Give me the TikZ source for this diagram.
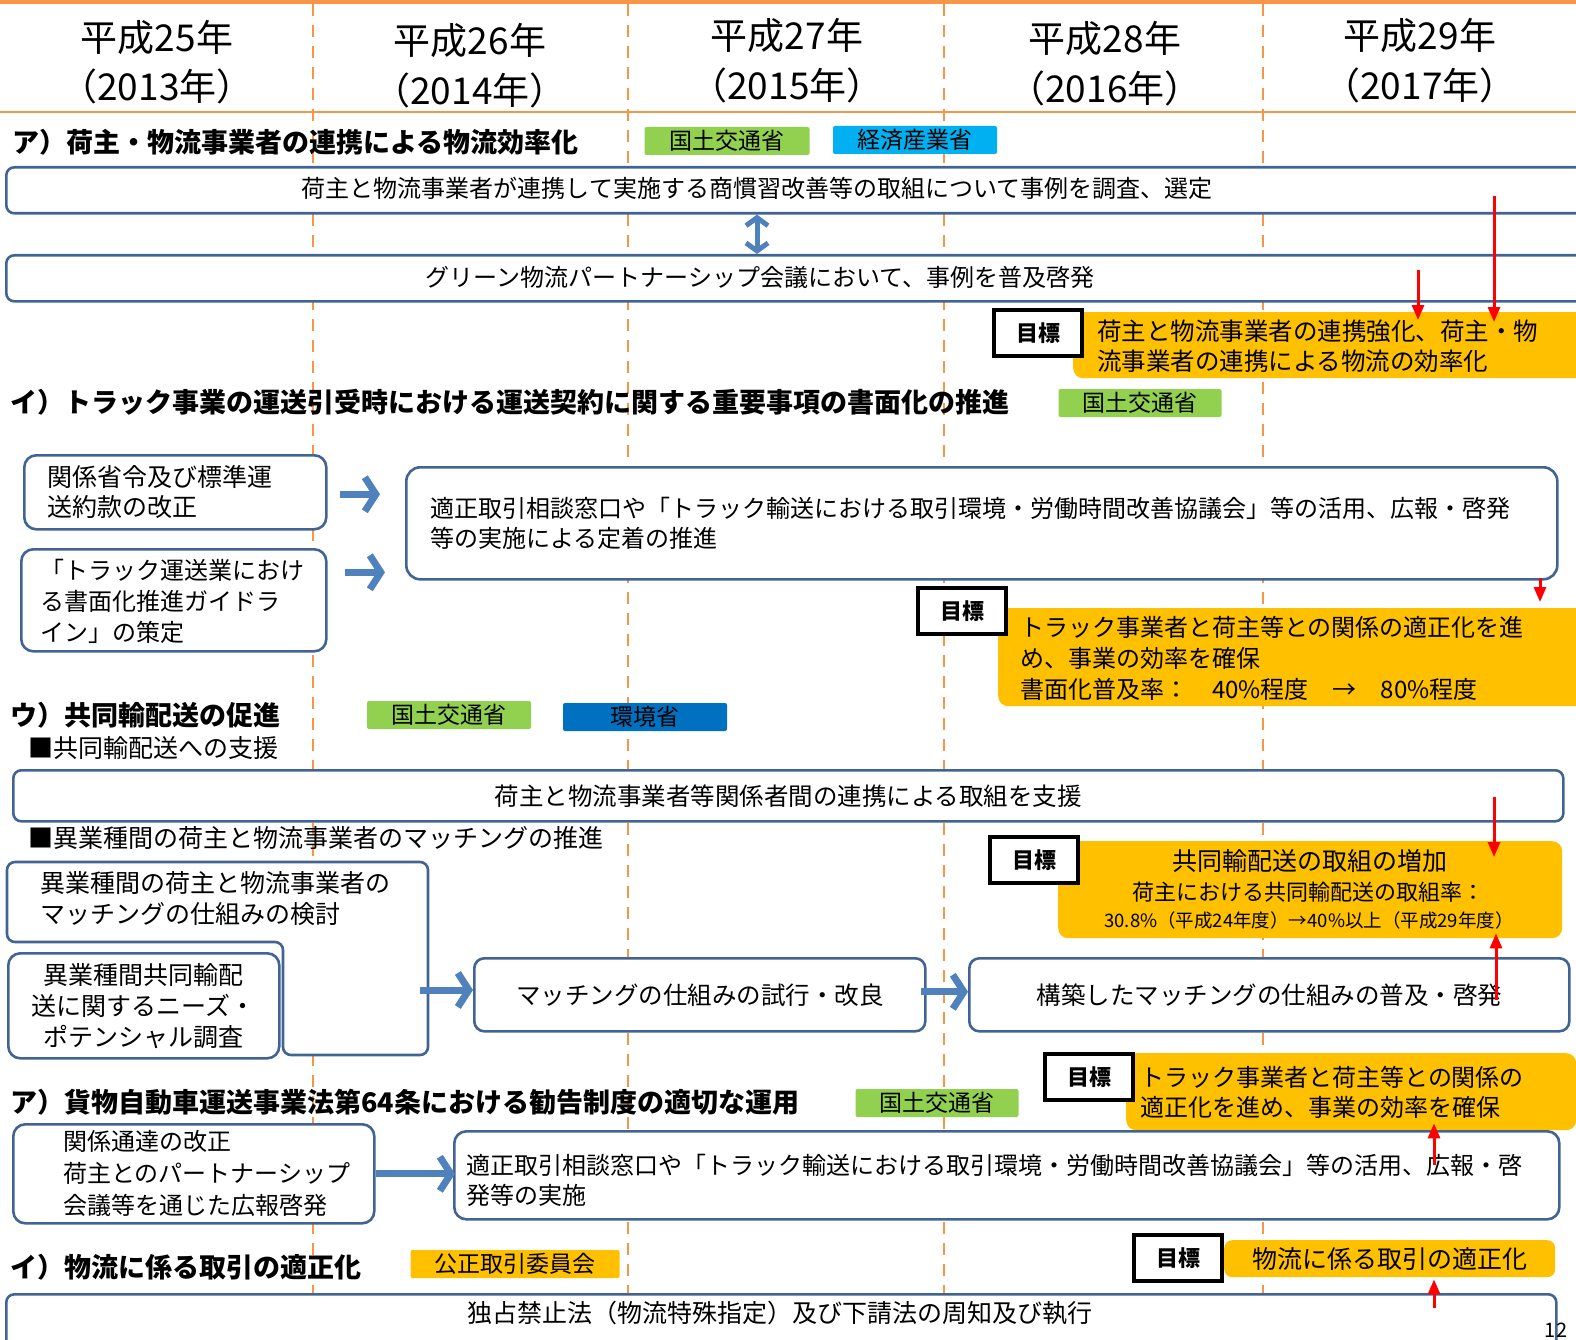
\documentclass[tikz,border=0pt]{standalone}
\usepackage{fontspec}
\setmainfont{Noto Sans CJK JP}
\usetikzlibrary{arrows.meta,positioning}

\definecolor{boxblue}{RGB}{65,100,148}
\definecolor{arrowblue}{RGB}{79,129,189}
\definecolor{taggreen}{RGB}{146,208,80}
\definecolor{tagcyan}{RGB}{0,176,240}
\definecolor{tagblue}{RGB}{0,112,192}
\definecolor{goalorange}{RGB}{255,192,0}
\definecolor{lineorange}{RGB}{247,150,70}

\newcommand\jsize[2]{\fontsize{#1}{#2}\selectfont}

\begin{document}
\begin{tikzpicture}[x=1pt,y=-1pt,
  frame/.style={draw=boxblue,line width=2.6pt,rounded corners=8pt,fill=white,inner sep=0pt},
  tag/.style={rounded corners=2pt,inner sep=0pt,minimum height=28pt,font=\jsize{23}{23}},
  goalbox/.style={draw=black,line width=4pt,fill=white,minimum width=88pt,minimum height=46pt,inner sep=0pt,font=\bfseries\jsize{22}{22}},
  target/.style={fill=goalorange,rounded corners=10pt,inner sep=0pt},
  title/.style={anchor=west,inner sep=0pt,font=\bfseries\jsize{27}{27}},
  year/.style={inner sep=0pt,font=\jsize{37}{37}},
  txt/.style={inner sep=0pt,font=\jsize{24}{30}},
  ltxt/.style={txt,anchor=west,align=left},
  fatarrow/.style={draw=arrowblue,line width=7pt,-{Straight Barb[length=11pt,width=34pt]}},
  dblarrow/.style={draw=arrowblue,line width=5pt,{Straight Barb[length=8pt,width=22pt]}-{Straight Barb[length=8pt,width=22pt]}},
  redarrow/.style={draw=red,line width=3pt,-{Triangle[length=15pt,width=12pt]}}
]
\useasboundingbox (0,0) rectangle (1576,1340);

% header
\draw[lineorange,line width=4pt] (0,2) -- (1576,2);
\draw[lineorange,line width=2.5pt] (0,112) -- (1576,112);
\foreach \x in {313,628,944,1263}
  \draw[lineorange,line width=2pt,dash pattern=on 12pt off 9pt] (\x,4) -- (\x,1340);

\node[year] (h25) at (157,37) {平成25年};
\node[year] (h25b) at (157,86) {（2013年）};
\node[year] (h26) at (470,40) {平成26年};
\node[year] (h26b) at (470,90) {（2014年）};
\node[year] (h27) at (787,35) {平成27年};
\node[year] (h27b) at (787,85) {（2015年）};
\node[year] (h28) at (1105,38) {平成28年};
\node[year] (h28b) at (1105,88) {（2016年）};
\node[year] (h29) at (1420,35) {平成29年};
\node[year] (h29b) at (1420,85) {（2017年）};

% ア) 連携
\node[title] (ttlA) at (12,142) {ア）荷主・物流事業者の連携による物流効率化};
\node[tag,fill=taggreen,minimum width=165pt] (mlitA) at (727,141) {国土交通省};
\node[tag,fill=tagcyan,minimum width=164pt] (meti) at (915,140) {経済産業省};

\node[frame,anchor=north west,minimum width=1600pt,minimum height=46pt] (boxA1) at (5,166) {};
\node[txt] (txtA1) at (757,188) {荷主と物流事業者が連携して実施する商慣習改善等の取組について事例を調査、選定};
\node[frame,anchor=north west,minimum width=1600pt,minimum height=46pt] (boxA2) at (5,254) {};
\node[txt] (txtA2) at (760,277) {グリーン物流パートナーシップ会議において、事例を普及啓発};
\draw[dblarrow] (boxA1.south -| txtA1) -- (boxA2.north -| txtA1);

\node[target,anchor=north west,minimum width=520pt,minimum height=66pt] (goalA) at (1073,312) {};
\node[ltxt,font=\jsize{24.5}{30}] (goalAt) at (1097,346) {荷主と物流事業者の連携強化、荷主・物\\流事業者の連携による物流の効率化};
\node[goalbox] (mokA) at (1038,333) {目標};
\coordinate (redA1) at (1494,196);
\coordinate (redA2) at (1418,270);
\draw[redarrow,shorten >=-10pt] (redA1) -- (redA1 |- goalA.north);
\draw[redarrow,shorten >=-8pt] (redA2) -- (redA2 |- goalA.north);

% イ) 書面化
\node[title] (ttlB) at (10,402) {イ）トラック事業の運送引受時における運送契約に関する重要事項の書面化の推進};
\node[tag,fill=taggreen,minimum width=163pt] (mlitB) at (1140,403) {国土交通省};

\node[frame,rounded corners=12pt,anchor=north west,minimum width=302pt,minimum height=74pt] (boxB1) at (23,454) {};
\node[ltxt,font=\jsize{25}{30}] (txtB1) at (47,492) {関係省令及び標準運\\送約款の改正};
\node[frame,rounded corners=12pt,anchor=north west,minimum width=305pt,minimum height=102pt] (boxB2) at (20,548) {};
\node[ltxt,font=\jsize{24}{31}] (txtB2) at (40,601) {「トラック運送業におけ\\る書面化推進ガイドラ\\イン」の策定};
\node[frame,rounded corners=14pt,anchor=north west,minimum width=1151pt,minimum height=112pt] (boxB3) at (405,466) {};
\node[ltxt] (txtB3) at (430,523) {適正取引相談窓口や「トラック輸送における取引環境・労働時間改善協議会」等の活用、広報・啓発\\等の実施による定着の推進};
\draw[fatarrow,shorten <=12pt,shorten >=25pt] ([yshift=-2pt]boxB1.east) -- ([yshift=-2pt]boxB1.east -| boxB3.west);
\draw[fatarrow,shorten <=17pt,shorten >=20pt] ([yshift=28pt]boxB2.east) -- ([yshift=28pt]boxB2.east -| boxB3.west);

\node[target,anchor=north west,minimum width=590pt,minimum height=98pt] (goalB) at (998,608) {};
\node[ltxt,font=\jsize{24}{31}] (goalBt) at (1020,658) {トラック事業者と荷主等との関係の適正化を進\\め、事業の効率を確保\\書面化普及率：\quad 40\%程度\quad →\quad 80\%程度};
\node[goalbox] (mokB) at (962,611) {目標};
\coordinate (redB) at (1540,578);
\draw[redarrow,shorten >=6pt] (redB) -- (redB |- goalB.north);

% ウ) 共同輸配送
\node[title] (ttlC) at (10,715) {ウ）共同輸配送の促進};
\node[tag,fill=taggreen,minimum width=164pt] (mlitC) at (449,715) {国土交通省};
\node[tag,fill=tagblue,minimum width=164pt] (moe) at (645,717) {環境省};
\node[ltxt,font=\jsize{25}{25}] (subC1) at (28,748) {■共同輸配送への支援};
\node[frame,anchor=north west,minimum width=1550pt,minimum height=51pt,font=\jsize{24.5}{24.5}] (boxC1) at (12,769) {荷主と物流事業者等関係者間の連携による取組を支援};
\node[ltxt,font=\jsize{25}{25}] (subC2) at (28,838) {■異業種間の荷主と物流事業者のマッチングの推進};

\draw[frame] (7,942) -- (7,862) -- (428,862) -- (428,1055) -- (283,1055) -- (283,942) -- cycle;
\node[ltxt,font=\jsize{25}{31}] (txtC2) at (40,899) {異業種間の荷主と物流事業者の\\マッチングの仕組みの検討};
\node[frame,rounded corners=12pt,anchor=north west,minimum width=271pt,minimum height=105pt,align=center,font=\jsize{25}{31}] (boxC3) at (7,952) {異業種間共同輸配\\送に関するニーズ・\\ポテンシャル調査};
\coordinate (lbox) at (428,990);
\node[frame,rounded corners=10pt,anchor=north west,minimum width=451pt,minimum height=73pt,font=\jsize{24.5}{24.5}] (boxC4) at (473,957) {マッチングの仕組みの試行・改良};
\node[frame,rounded corners=10pt,anchor=north west,minimum width=600pt,minimum height=73pt,font=\jsize{24.5}{24.5}] (boxC5) at (968,957) {構築したマッチングの仕組みの普及・啓発};
\draw[fatarrow,shorten <=-8pt] (lbox) -- (lbox -| boxC4.west);
\draw[fatarrow,shorten <=-6pt] ([yshift=3pt]boxC4.east) -- ([yshift=3pt]boxC4.east -| boxC5.west);

\node[target,anchor=north west,minimum width=504pt,minimum height=97pt] (goalC) at (1058,841) {};
\node[txt,font=\jsize{25}{25}] (goalCt1) at (1310,861) {共同輸配送の取組の増加};
\node[txt,font=\jsize{22}{22}] (goalCt2) at (1308,892) {荷主における共同輸配送の取組率：};
\node[txt,font=\jsize{18.5}{18.5}] (goalCt3) at (1309,920) {30.8\%（平成24年度）→40\%以上（平成29年度）};
\node[goalbox] (mokC) at (1034,860) {目標};
\coordinate (redC1) at (1494,797);
\coordinate (redC2) at (1496,1000);
\draw[redarrow,shorten >=-16pt] (redC1) -- (redC1 |- goalC.north);
\draw[redarrow,shorten >=-5pt] (redC2) -- (redC2 |- goalC.south);

% ア) 勧告制度
\node[title] (ttlD) at (10,1102) {ア）貨物自動車運送事業法第64条における勧告制度の適切な運用};
\node[tag,fill=taggreen,minimum width=163pt] (mlitD) at (937,1103) {国土交通省};

\node[target,anchor=north west,minimum width=450pt,minimum height=77pt] (goalD) at (1126,1053) {};
\node[ltxt] (goalDt) at (1140,1092) {トラック事業者と荷主等との関係の\\適正化を進め、事業の効率を確保};
\node[goalbox] (mokD) at (1089,1077) {目標};

\node[frame,rounded corners=12pt,anchor=north west,minimum width=361pt,minimum height=99pt] (boxD1) at (12,1123) {};
\node[ltxt,font=\jsize{24}{32}] (txtD1) at (63,1173) {関係通達の改正\\荷主とのパートナーシップ\\会議等を通じた広報啓発};
\node[frame,rounded corners=12pt,anchor=north west,minimum width=1105pt,minimum height=88pt] (boxD2) at (453,1130) {};
\node[ltxt] (txtD2) at (466,1180) {適正取引相談窓口や「トラック輸送における取引環境・労働時間改善協議会」等の活用、広報・啓\\発等の実施};
\draw[fatarrow,shorten >=-2pt] (boxD1.east) -- (boxD1.east -| boxD2.west);
\coordinate (redD) at (1434,1165);
\draw[redarrow,shorten >=-7pt] (redD) -- (redD |- goalD.south);

% イ) 取引の適正化
\node[title] (ttlE) at (10,1267) {イ）物流に係る取引の適正化};
\node[tag,fill=goalorange,minimum width=209pt] (jftc) at (515,1264) {公正取引委員会};

\node[target,rounded corners=8pt,anchor=north west,minimum width=331pt,minimum height=37pt,font=\jsize{25}{25}] (goalE) at (1224,1240) {物流に係る取引の適正化};
\node[goalbox] (mokE) at (1178,1258) {目標};
\node[frame,anchor=north west,minimum width=1550pt,minimum height=60pt] (boxE1) at (5,1293) {};
\node[txt,font=\jsize{25}{25}] (txtE1) at (780,1313) {独占禁止法（物流特殊指定）及び下請法の周知及び執行};
\coordinate (redE) at (1434,1308);
\draw[redarrow,shorten >=2pt] (redE) -- (redE |- goalE.south);

\node[inner sep=0pt,anchor=south,font=\jsize{20}{20}] (page) at (1556,1338) {12};
\end{tikzpicture}
\end{document}
